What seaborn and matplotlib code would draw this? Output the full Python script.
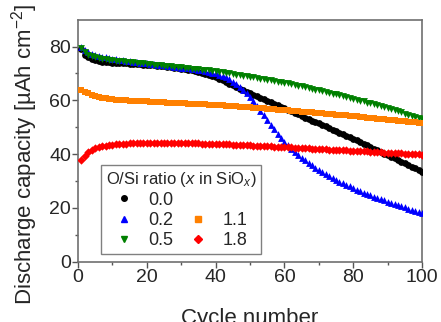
import numpy as np
import pandas as pd
import matplotlib
matplotlib.use('Agg')
import matplotlib.pyplot as plt
from matplotlib.lines import Line2D
import seaborn as sns

# Discharge capacity (uAh cm^-2) per cycle
cycles = list(range(1, 101))

cap_00 = [79.0, 77.0, 76.0, 75.3, 74.9, 74.6, 74.4, 74.2, 74.1, 74.0,
          73.9, 73.8, 73.8, 73.7, 73.6, 73.6, 73.5, 73.4, 73.3, 73.2,
          73.1, 73.0, 72.9, 72.8, 72.6, 72.5, 72.4, 72.2, 72.0, 71.8,
          71.6, 71.4, 71.1, 70.8, 70.5, 70.2, 69.8, 69.4, 69.0, 68.5,
          68.0, 67.4, 66.8, 66.2, 65.6, 65.0, 64.4, 63.8, 63.2, 62.6,
          62.1, 61.5, 61.0, 60.4, 59.8, 59.3, 58.7, 58.2, 57.6, 57.0,
          56.5, 55.9, 55.3, 54.8, 54.2, 53.6, 53.1, 52.5, 52.0, 51.4,
          50.8, 50.3, 49.7, 49.1, 48.6, 48.0, 47.4, 46.9, 46.3, 45.7,
          45.1, 44.5, 43.9, 43.3, 42.7, 42.1, 41.5, 40.9, 40.2, 39.6,
          39.0, 38.4, 37.8, 37.2, 36.6, 36.0, 35.4, 34.8, 34.2, 33.5]

cap_02 = [80.0, 78.8, 77.8, 77.2, 76.8, 76.5, 76.2, 76.0, 75.7, 75.5,
          75.3, 75.1, 74.9, 74.7, 74.5, 74.4, 74.2, 74.0, 73.9, 73.7,
          73.6, 73.4, 73.3, 73.1, 73.0, 72.8, 72.7, 72.5, 72.4, 72.2,
          72.0, 71.9, 71.7, 71.5, 71.3, 71.1, 70.9, 70.6, 70.3, 70.0,
          69.6, 69.1, 68.5, 67.8, 67.0, 66.0, 65.0, 64.0, 62.8, 61.4,
          59.8, 58.0, 56.2, 54.4, 52.6, 50.9, 49.2, 47.6, 46.1, 44.7,
          43.4, 42.1, 40.9, 39.8, 38.7, 37.7, 36.8, 35.9, 35.0, 34.2,
          33.4, 32.6, 31.9, 31.2, 30.5, 29.8, 29.2, 28.6, 28.0, 27.4,
          26.8, 26.3, 25.7, 25.2, 24.7, 24.2, 23.7, 23.2, 22.8, 22.3,
          21.9, 21.5, 21.0, 20.6, 20.2, 19.8, 19.4, 19.0, 18.6, 18.2]

cap_05 = [79.5, 78.0, 77.0, 76.4, 76.0, 75.7, 75.5, 75.3, 75.1, 75.0,
          74.8, 74.7, 74.5, 74.4, 74.2, 74.1, 74.0, 73.8, 73.7, 73.6,
          73.4, 73.3, 73.2, 73.0, 72.9, 72.8, 72.7, 72.5, 72.4, 72.3,
          72.1, 72.0, 71.8, 71.7, 71.6, 71.4, 71.3, 71.1, 71.0, 70.8,
          70.6, 70.4, 70.2, 70.0, 69.8, 69.6, 69.4, 69.2, 69.0, 68.8,
          68.6, 68.4, 68.1, 67.9, 67.7, 67.5, 67.2, 67.0, 66.8, 66.5,
          66.3, 66.0, 65.7, 65.5, 65.2, 64.9, 64.6, 64.3, 64.0, 63.7,
          63.4, 63.1, 62.8, 62.5, 62.2, 61.9, 61.6, 61.3, 61.0, 60.6,
          60.3, 59.9, 59.6, 59.2, 58.9, 58.5, 58.2, 57.8, 57.4, 57.0,
          56.7, 56.3, 55.9, 55.5, 55.1, 54.7, 54.3, 53.9, 53.5, 53.1]

cap_11 = [64.0, 63.2, 62.6, 62.0, 61.5, 61.2, 60.9, 60.7, 60.5, 60.4,
          60.3, 60.2, 60.1, 60.0, 59.9, 59.9, 59.8, 59.7, 59.6, 59.6,
          59.5, 59.5, 59.4, 59.3, 59.3, 59.2, 59.1, 59.1, 59.0, 59.0,
          58.9, 58.8, 58.8, 58.7, 58.6, 58.6, 58.5, 58.4, 58.4, 58.3,
          58.2, 58.1, 58.0, 57.9, 57.9, 57.8, 57.7, 57.6, 57.5, 57.4,
          57.3, 57.2, 57.1, 57.0, 56.9, 56.8, 56.7, 56.6, 56.5, 56.4,
          56.3, 56.2, 56.1, 56.0, 55.8, 55.7, 55.6, 55.5, 55.4, 55.3,
          55.2, 55.1, 55.0, 54.8, 54.7, 54.6, 54.5, 54.4, 54.2, 54.1,
          54.0, 53.9, 53.7, 53.6, 53.5, 53.4, 53.2, 53.1, 53.0, 52.8,
          52.7, 52.6, 52.4, 52.3, 52.2, 52.0, 51.9, 51.8, 51.6, 51.5]

cap_18 = [38.0, 39.5, 40.8, 41.7, 42.3, 42.7, 43.0, 43.2, 43.4, 43.5,
          43.6, 43.7, 43.8, 43.9, 44.0, 44.0, 44.1, 44.1, 44.2, 44.2,
          44.2, 44.3, 44.3, 44.3, 44.3, 44.3, 44.2, 44.2, 44.2, 44.2,
          44.1, 44.1, 44.1, 44.0, 44.0, 43.9, 43.9, 43.9, 43.8, 43.8,
          43.7, 43.7, 43.6, 43.6, 43.5, 43.5, 43.4, 43.4, 43.3, 43.3,
          43.2, 43.1, 43.1, 43.0, 43.0, 42.9, 42.8, 42.8, 42.7, 42.6,
          42.6, 42.5, 42.4, 42.4, 42.3, 42.2, 42.2, 42.1, 42.0, 42.0,
          41.9, 41.8, 41.7, 41.7, 41.6, 41.5, 41.5, 41.4, 41.3, 41.3,
          41.2, 41.1, 41.0, 41.0, 40.9, 40.8, 40.8, 40.7, 40.6, 40.6,
          40.5, 40.4, 40.3, 40.3, 40.2, 40.1, 40.1, 40.0, 39.9, 39.8]

ratios = ['0.0', '0.2', '0.5', '1.1', '1.8']
series = [cap_00, cap_02, cap_05, cap_11, cap_18]
colors = ['black', '#0000ff', '#008000', '#ff8000', '#ff0000']
markers = ['o', '^', 'v', 's', 'D']

# long-form table for seaborn
data = pd.concat([pd.DataFrame({'Cycle': cycles, 'Capacity': s, 'Ratio': r})
                  for r, s in zip(ratios, series)], ignore_index=True)

sns.set_style('ticks')
plt.rcParams['font.family'] = ['Liberation Sans', 'DejaVu Sans']
plt.rcParams['mathtext.fontset'] = 'custom'
plt.rcParams['mathtext.rm'] = 'Liberation Sans'
plt.rcParams['mathtext.it'] = 'Liberation Sans:italic'

fig = plt.figure(figsize=(4.41, 3.22), dpi=100)
ax = fig.add_axes([0.177, 0.187, 0.780, 0.752])

# draw in order so the later series sit on top like the original
for r, c, m in zip(ratios, colors, markers):
    sub = data[data['Ratio'] == r]
    size = 18 if m in ('s', 'D') else 24
    sns.scatterplot(data=sub, x='Cycle', y='Capacity', color=c, marker=m,
                    s=size, linewidth=0, ax=ax, legend=False, zorder=3)

ax.set_xlim(0, 100)
ax.set_ylim(0, 90)
ax.set_xticks([0, 20, 40, 60, 80, 100])
ax.set_yticks([0, 20, 40, 60, 80])
ax.set_xticks(range(10, 100, 20), minor=True)
ax.set_yticks(range(10, 90, 20), minor=True)
ax.tick_params(which='major', direction='out', length=4, width=1,
               color='#555555', labelsize=14, pad=1)
ax.tick_params(which='minor', direction='out', length=2.5, width=1,
               color='#555555')
for sp in ax.spines.values():
    sp.set_visible(True)
    sp.set_color('#707070')
    sp.set_linewidth(1.2)

# x label sits low and is clipped by the figure edge, as in the original
ax.set_xlabel('Cycle number', fontsize=16, labelpad=16)
ax.set_ylabel(r'Discharge capacity [µAh cm$^{\mathregular{-2}}$]',
              fontsize=16)
ax.yaxis.set_label_coords(-0.11, 0.445)

# legend: two columns, first column has 3 entries, second has blank + 2
handles = []
for i in [0, 1, 2]:
    handles.append(Line2D([], [], linestyle='none', marker=markers[i],
                          color=colors[i], markersize=4, label=ratios[i]))
handles.append(Line2D([], [], linestyle='none', marker=None, label=' '))
for i in [3, 4]:
    handles.append(Line2D([], [], linestyle='none', marker=markers[i],
                          color=colors[i], markersize=4, label=ratios[i]))

leg = ax.legend(handles=handles, ncol=2, loc='lower left',
                bbox_to_anchor=(0.067, 0.033), borderaxespad=0,
                title=r'O/Si ratio ($x$ in SiO$_{x}$)', title_fontsize=12,
                fontsize=13, frameon=True, fancybox=False, framealpha=1,
                edgecolor='#808080', handlelength=2.0, handletextpad=0.35,
                columnspacing=0.4, labelspacing=0.18, borderpad=0.25)
leg.get_frame().set_linewidth(1)
leg._legend_box.align = 'left'

fig.savefig('out.png', dpi=100)
